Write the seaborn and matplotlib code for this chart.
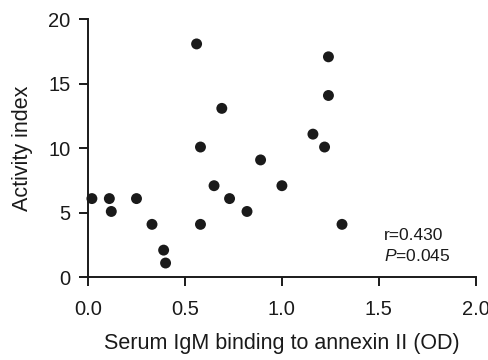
import pandas as pd
import seaborn as sns
import matplotlib.pyplot as plt

# values
igm_od = [0.02, 0.11, 0.12, 0.25, 0.33, 0.39, 0.40, 0.56, 0.58, 0.58,
          0.65, 0.69, 0.73, 0.82, 0.89, 1.00, 1.16, 1.22, 1.24, 1.24, 1.31]
activity = [6.1, 6.1, 5.1, 6.1, 4.1, 2.1, 1.1, 18.1, 10.1, 4.1,
            7.1, 13.1, 6.1, 5.1, 9.1, 7.1, 11.1, 10.1, 17.1, 14.1, 4.1]
x_ticks = [0.0, 0.5, 1.0, 1.5, 2.0]
y_ticks = [0, 5, 10, 15, 20]

df = pd.DataFrame({'igm': igm_od, 'activity': activity})

sns.set_style('ticks')
plt.rcParams['font.family'] = ['Liberation Sans', 'DejaVu Sans']
plt.rcParams['mathtext.fontset'] = 'custom'
plt.rcParams['mathtext.rm'] = 'Liberation Sans'
plt.rcParams['mathtext.it'] = 'Liberation Sans:italic'

ink = '#1a1a1a'

fig = plt.figure(figsize=(4.89, 3.6), dpi=100)
ax = fig.add_axes([0.18, 0.23, 0.793, 0.716])

sns.scatterplot(data=df, x='igm', y='activity', ax=ax, s=62, color=ink,
                edgecolor='none', clip_on=False)

ax.set_xlim(0, 2.0)
ax.set_ylim(0, 20)
ax.set_xticks(x_ticks)
ax.set_xticklabels([f'{t:.1f}' for t in x_ticks])
ax.set_yticks(y_ticks)
ax.tick_params(axis='both', labelsize=14.5, length=6.5, width=1.4, color=ink,
               labelcolor=ink)
ax.tick_params(axis='y', pad=6)
ax.tick_params(axis='x', pad=10)
for side in ['left', 'bottom']:
    ax.spines[side].set_linewidth(1.4)
    ax.spines[side].set_color(ink)
sns.despine(ax=ax)

ax.set_xlabel('Serum IgM binding to annexin II (OD)', fontsize=15.5,
              labelpad=10, color=ink)
ax.set_ylabel('Activity index', fontsize=15.5, labelpad=11, color=ink)

ax.text(1.527, 3.2, 'r=0.430', fontsize=12.5, color=ink, va='center')
ax.text(1.527, 1.65, r'$\mathit{P}$=0.045', fontsize=12.5, color=ink,
        va='center')

fig.savefig('out.png', dpi=100)
